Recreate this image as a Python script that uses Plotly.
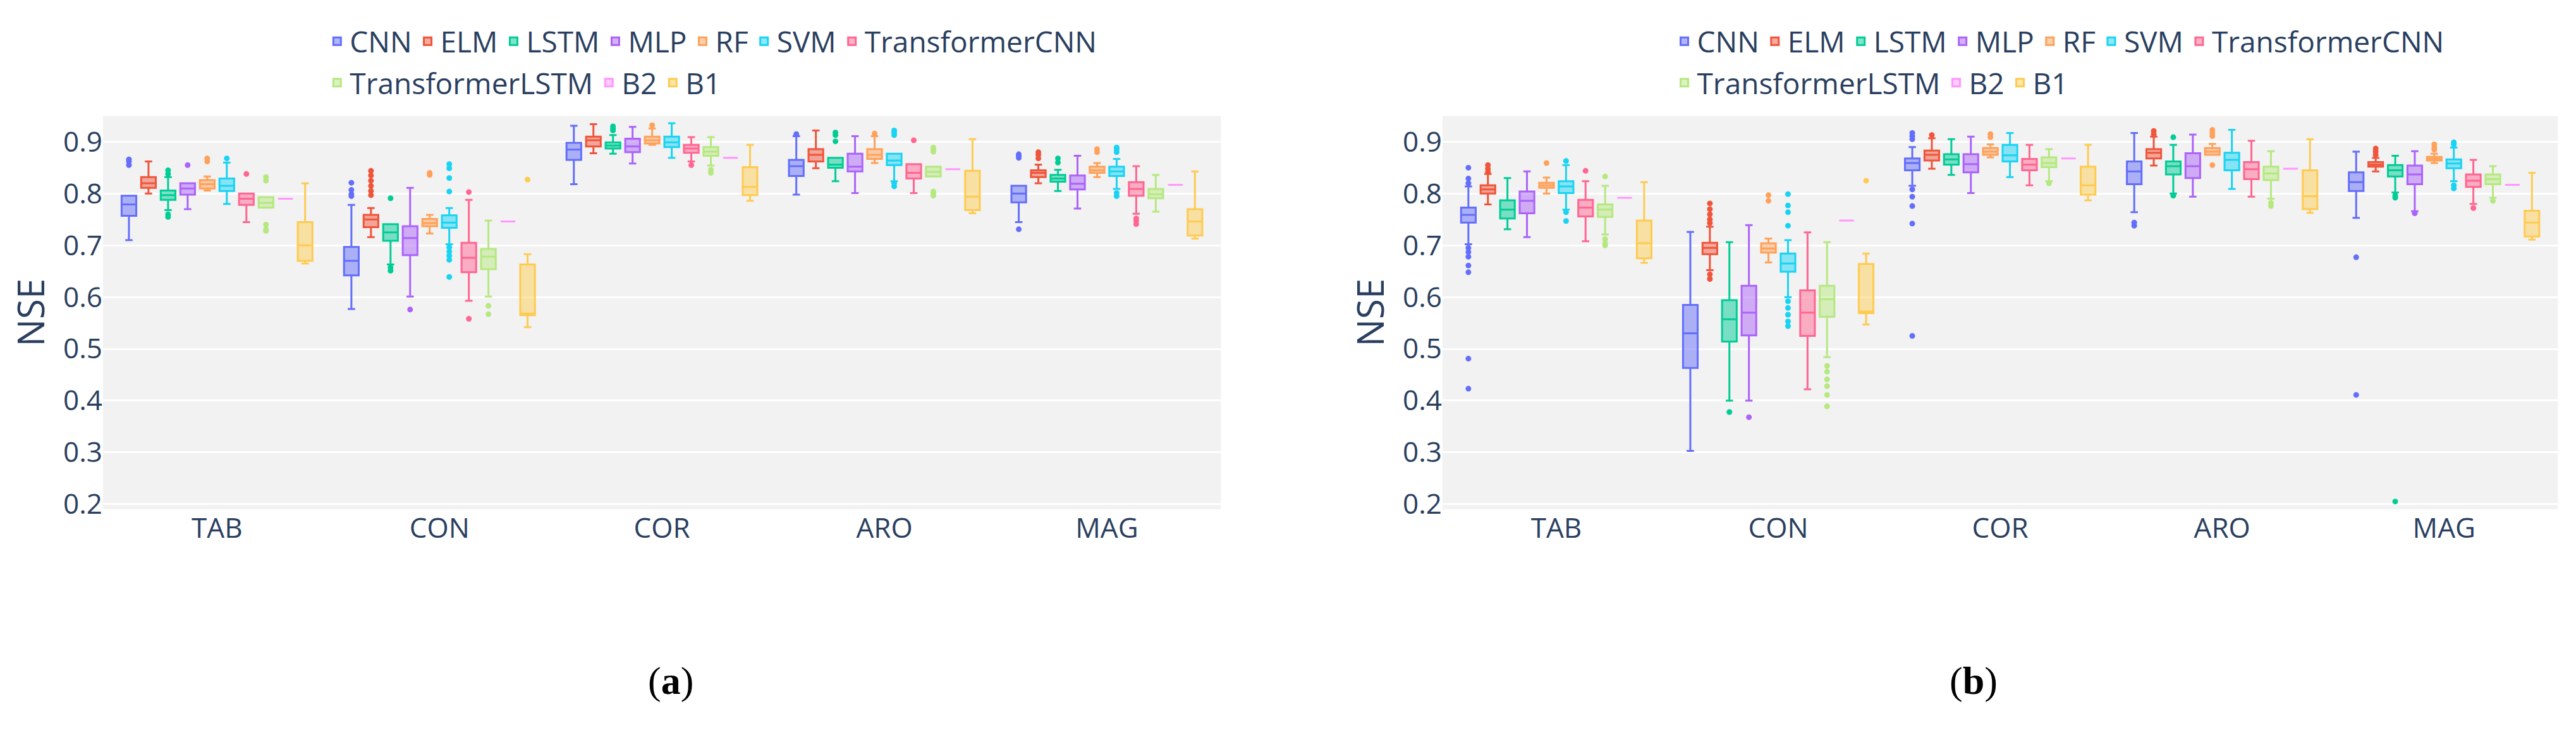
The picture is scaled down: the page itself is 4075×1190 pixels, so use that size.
import plotly.graph_objects as go

categories = ['TAB', 'CON', 'COR', 'ARO', 'MAG']
models = ['CNN', 'ELM', 'LSTM', 'MLP', 'RF', 'SVM', 'TransformerCNN',
          'TransformerLSTM', 'B2', 'B1']
colors = ['#636EFA', '#EF553B', '#00CC96', '#AB63FA', '#FFA15A', '#19D3F3',
          '#FF6692', '#B6E880', '#FF97FF', '#FECB52']

# box stats per category: (lower whisker, q1, median, q3, upper whisker)
# panel (a)
a_CNN = [(0.710, 0.757, 0.779, 0.796, 0.855), (0.577, 0.642, 0.670, 0.697, 0.778), (0.833, 0.865, 0.885, 0.898, 0.931), (0.798, 0.834, 0.853, 0.865, 0.911), (0.745, 0.783, 0.800, 0.815, 0.869)]
a_ELM = [(0.800, 0.811, 0.820, 0.832, 0.858), (0.716, 0.735, 0.750, 0.759, 0.772), (0.878, 0.891, 0.903, 0.910, 0.934), (0.849, 0.862, 0.875, 0.886, 0.913), (0.820, 0.832, 0.840, 0.845, 0.856)]
a_LSTM = [(0.768, 0.788, 0.797, 0.806, 0.832), (0.670, 0.709, 0.725, 0.741, 0.791), (0.877, 0.887, 0.893, 0.899, 0.913), (0.840, 0.850, 0.856, 0.869, 0.901), (0.809, 0.823, 0.829, 0.836, 0.846)]
a_MLP = [(0.770, 0.798, 0.810, 0.820, 0.855), (0.601, 0.681, 0.714, 0.737, 0.811), (0.858, 0.880, 0.891, 0.906, 0.929), (0.801, 0.843, 0.852, 0.877, 0.911), (0.771, 0.808, 0.819, 0.835, 0.873)]
a_RF = [(0.806, 0.810, 0.818, 0.826, 0.833), (0.723, 0.737, 0.743, 0.751, 0.759), (0.894, 0.897, 0.903, 0.910, 0.913), (0.859, 0.867, 0.875, 0.886, 0.891), (0.832, 0.840, 0.845, 0.852, 0.859)]
a_SVM = [(0.780, 0.805, 0.815, 0.829, 0.860), (0.702, 0.734, 0.744, 0.758, 0.772), (0.869, 0.890, 0.899, 0.910, 0.936), (0.824, 0.855, 0.864, 0.877, 0.913), (0.829, 0.834, 0.843, 0.852, 0.867)]
a_TCNN = [(0.745, 0.778, 0.790, 0.800, 0.838), (0.593, 0.648, 0.676, 0.705, 0.788), (0.879, 0.879, 0.887, 0.894, 0.909), (0.801, 0.829, 0.840, 0.857, 0.903), (0.761, 0.796, 0.809, 0.822, 0.853)]
a_TLSTM = [(0.740, 0.773, 0.782, 0.793, 0.825), (0.601, 0.654, 0.678, 0.693, 0.748), (0.854, 0.873, 0.881, 0.890, 0.909), (0.804, 0.833, 0.842, 0.852, 0.881), (0.765, 0.791, 0.799, 0.809, 0.836)]
a_B2 = [(0.790,) * 5, (0.746,) * 5, (0.869,) * 5, (0.847,) * 5, (0.817,) * 5]
a_B1 = [(0.665, 0.670, 0.700, 0.745, 0.820), (0.542, 0.565, 0.568, 0.663, 0.683), (0.786, 0.797, 0.813, 0.851, 0.894), (0.762, 0.768, 0.794, 0.844, 0.905), (0.713, 0.719, 0.746, 0.770, 0.843)]

# outliers per category
a_CNN_out = [[0.862, 0.866], [0.795, 0.799, 0.807, 0.821], [0.818], [0.915], [0.731, 0.873, 0.876]]
a_ELM_out = [[0.862], [0.797, 0.805, 0.815, 0.825, 0.835, 0.844], [], [0.917, 0.922], [0.868, 0.875, 0.880]]
a_LSTM_out = [[0.755, 0.760, 0.838, 0.845], [0.651, 0.657, 0.663], [0.922, 0.926, 0.930], [0.824, 0.913, 0.918], [0.805, 0.811, 0.860, 0.868]]
a_MLP_out = [[], [0.576], [], [], []]
a_RF_out = [[0.862, 0.868], [0.836, 0.840], [0.926, 0.932], [0.911, 0.916], [0.880, 0.886]]
a_SVM_out = [[0.868], [0.639, 0.672, 0.680, 0.688, 0.696, 0.804, 0.830, 0.849, 0.857], [], [0.814, 0.820, 0.918, 0.922], [0.795, 0.801, 0.809, 0.880, 0.885, 0.889]]
a_TCNN_out = [[], [0.558, 0.803], [0.855, 0.862], [], [0.741, 0.747, 0.752]]
a_TLSTM_out = [[0.728, 0.731, 0.832], [0.567, 0.583], [0.840, 0.846], [0.796, 0.800, 0.885, 0.889], []]
a_B2_out = [[], [], [], [], []]
a_B1_out = [[], [0.827], [], [], []]

# panel (b)
b_CNN = [(0.702, 0.744, 0.759, 0.773, 0.814), (0.303, 0.463, 0.530, 0.585, 0.726), (0.815, 0.845, 0.859, 0.868, 0.890), (0.764, 0.818, 0.843, 0.862, 0.917), (0.753, 0.805, 0.822, 0.841, 0.881)]
b_ELM = [(0.779, 0.800, 0.808, 0.816, 0.838), (0.661, 0.683, 0.695, 0.705, 0.736), (0.848, 0.864, 0.875, 0.883, 0.901), (0.854, 0.868, 0.879, 0.886, 0.901), (0.843, 0.852, 0.856, 0.861, 0.869)]
b_LSTM = [(0.731, 0.752, 0.769, 0.787, 0.830), (0.409, 0.514, 0.557, 0.594, 0.706), (0.836, 0.856, 0.866, 0.876, 0.895), (0.809, 0.837, 0.853, 0.862, 0.894), (0.806, 0.833, 0.845, 0.855, 0.873)]
b_MLP = [(0.716, 0.762, 0.786, 0.804, 0.843), (0.400, 0.526, 0.570, 0.622, 0.739), (0.801, 0.841, 0.857, 0.876, 0.910), (0.794, 0.830, 0.853, 0.878, 0.914), (0.780, 0.818, 0.837, 0.854, 0.882)]
b_RF = [(0.800, 0.811, 0.816, 0.821, 0.831), (0.667, 0.686, 0.694, 0.704, 0.713), (0.870, 0.875, 0.881, 0.888, 0.895), (0.855, 0.875, 0.881, 0.888, 0.896), (0.859, 0.864, 0.867, 0.871, 0.877)]
b_SVM = [(0.769, 0.801, 0.814, 0.824, 0.855), (0.600, 0.649, 0.665, 0.684, 0.710), (0.832, 0.862, 0.874, 0.894, 0.917), (0.809, 0.845, 0.865, 0.879, 0.923), (0.837, 0.849, 0.858, 0.866, 0.889)]
b_TCNN = [(0.715, 0.756, 0.773, 0.788, 0.824), (0.422, 0.525, 0.570, 0.613, 0.725), (0.816, 0.845, 0.856, 0.867, 0.894), (0.794, 0.828, 0.847, 0.861, 0.902), (0.813, 0.813, 0.825, 0.837, 0.865)]
b_TLSTM = [(0.721, 0.755, 0.769, 0.779, 0.815), (0.484, 0.562, 0.596, 0.622, 0.706), (0.820, 0.851, 0.859, 0.870, 0.886), (0.809, 0.826, 0.839, 0.852, 0.882), (0.804, 0.818, 0.828, 0.837, 0.853)]
b_B2 = [(0.792,) * 5, (0.748,) * 5, (0.868,) * 5, (0.848,) * 5, (0.817,) * 5]
b_B1 = [(0.666, 0.675, 0.704, 0.748, 0.822), (0.547, 0.569, 0.572, 0.664, 0.684), (0.787, 0.798, 0.816, 0.852, 0.894), (0.763, 0.770, 0.795, 0.845, 0.905), (0.711, 0.717, 0.744, 0.767, 0.840)]

b_CNN_out = [[0.423, 0.481, 0.648, 0.661, 0.678, 0.687, 0.695, 0.820, 0.829, 0.850], [], [0.525, 0.742, 0.776, 0.794, 0.808, 0.905, 0.911, 0.917], [0.738, 0.744], [0.411, 0.677]]
b_ELM_out = [[0.842, 0.848, 0.855], [0.635, 0.644, 0.652, 0.743, 0.750, 0.760, 0.770, 0.781], [0.907, 0.913], [0.910, 0.915, 0.921], [0.875, 0.881, 0.887]]
b_LSTM_out = [[], [0.378, 0.400], [0.901, 0.905], [0.796, 0.800, 0.909], [0.205, 0.792, 0.796, 0.802]]
b_MLP_out = [[], [0.368], [], [], [0.762, 0.766]]
b_RF_out = [[0.859], [0.786, 0.797], [0.909, 0.915], [0.911, 0.917, 0.923], [0.885, 0.889, 0.895]]
b_SVM_out = [[0.747, 0.764, 0.863], [0.544, 0.553, 0.566, 0.579, 0.592, 0.738, 0.764, 0.777, 0.799], [], [], [0.810, 0.816, 0.824, 0.895, 0.899]]
b_TCNN_out = [[0.708, 0.844], [], [], [], [0.772, 0.780, 0.788]]
b_TLSTM_out = [[0.700, 0.704, 0.712, 0.833], [0.389, 0.411, 0.428, 0.441, 0.456, 0.467], [0.824, 0.828], [0.776, 0.782, 0.790], [0.786, 0.792, 0.796]]
b_B2_out = [[], [], [], [], []]
b_B1_out = [[], [0.825], [], [], []]

panel_a = [a_CNN, a_ELM, a_LSTM, a_MLP, a_RF, a_SVM, a_TCNN, a_TLSTM, a_B2, a_B1]
panel_a_out = [a_CNN_out, a_ELM_out, a_LSTM_out, a_MLP_out, a_RF_out, a_SVM_out, a_TCNN_out, a_TLSTM_out, a_B2_out, a_B1_out]
panel_b = [b_CNN, b_ELM, b_LSTM, b_MLP, b_RF, b_SVM, b_TCNN, b_TLSTM, b_B2, b_B1]
panel_b_out = [b_CNN_out, b_ELM_out, b_LSTM_out, b_MLP_out, b_RF_out, b_SVM_out, b_TCNN_out, b_TLSTM_out, b_B2_out, b_B1_out]


def sample(stats, out, m=12):
    # a sample whose quartiles and whiskers reproduce the read-off box
    lf, q1, med, q3, uf = stats
    return [lf] + [q1] * m + [med] * m + [q3] * m + [uf] + list(out)


fig = go.Figure()

for panel, outs, xa, ya, legs in [(panel_a, panel_a_out, 'x', 'y', ('legend', 'legend3')),
                                  (panel_b, panel_b_out, 'x2', 'y2', ('legend2', 'legend4'))]:
    for i, name in enumerate(models):
        xs, ys = [], []
        for j, cat in enumerate(categories):
            s = sample(panel[i][j], outs[i][j])
            ys += s
            xs += [cat] * len(s)
        fig.add_trace(go.Box(
            x=xs, y=ys, name=name, xaxis=xa, yaxis=ya,
            offsetgroup=name, alignmentgroup=xa,
            legend=legs[0] if i < 7 else legs[1],
            marker=dict(color=colors[i], size=9),
            line=dict(width=3),
            boxpoints='outliers', quartilemethod='inclusive',
        ))

axis_font = dict(family='Open Sans', size=44, color='#2a3f5f')
fig.update_layout(
    width=4075, height=1190,
    boxmode='group', boxgap=0.12, boxgroupgap=0.25,
    paper_bgcolor='white', plot_bgcolor='#f2f2f2',
    margin=dict(l=0, r=0, t=0, b=0),
    font=dict(family='Open Sans', color='#2a3f5f'),
    xaxis=dict(domain=[0.038, 0.472], anchor='y', tickfont=axis_font, showgrid=False),
    xaxis2=dict(domain=[0.558, 0.991], anchor='y2', tickfont=axis_font, showgrid=False),
    yaxis=dict(domain=[0.318, 0.850], anchor='x', range=[0.19, 0.95], dtick=0.1,
               tickfont=axis_font, gridcolor='white', gridwidth=3, zeroline=False,
               title=dict(text='NSE', font=dict(size=58), standoff=10)),
    yaxis2=dict(domain=[0.318, 0.850], anchor='x2', range=[0.19, 0.95], dtick=0.1,
                tickfont=axis_font, gridcolor='white', gridwidth=3, zeroline=False,
                title=dict(text='NSE', font=dict(size=58), standoff=10)),
)

leg = dict(orientation='h', xanchor='left', yanchor='middle', font=dict(size=46),
           bgcolor='rgba(0,0,0,0)')
fig.update_layout(
    legend=dict(leg, x=0.124, y=0.951),
    legend3=dict(leg, x=0.124, y=0.895),
    legend2=dict(leg, x=0.647, y=0.951),
    legend4=dict(leg, x=0.647, y=0.895),
)

for x, lab in [(0.249, '(<b>a</b>)'), (0.774, '(<b>b</b>)')]:
    fig.add_annotation(x=x, y=0.055, xref='paper', yref='paper', text=lab,
                       showarrow=False,
                       font=dict(family='Liberation Serif', size=62, color='black'))

fig.write_html('out.html')
